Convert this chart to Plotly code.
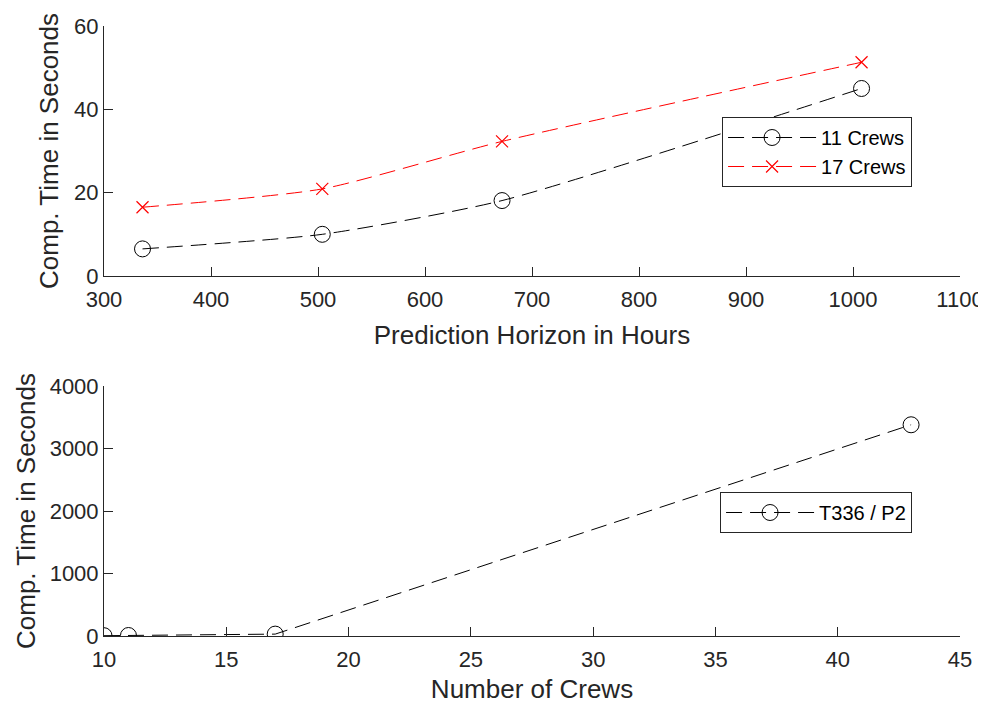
import plotly.graph_objects as go
from plotly.subplots import make_subplots

horizon_hours = [336, 504, 672, 1008]
time_11_crews = [6.5, 10.0, 18.1, 45.0]
time_17_crews = [16.5, 20.9, 32.3, 51.3]

num_crews = [10, 11, 17, 43]
time_t336_p2 = [5, 8, 30, 3380]

fig = make_subplots(rows=2, cols=1, vertical_spacing=0.18)

dash = "16px,8px"
fig.add_trace(go.Scatter(x=horizon_hours, y=time_11_crews, name="11 Crews", mode="lines+markers",
                         line=dict(color="black", width=1, dash=dash, shape="spline", smoothing=0.6),
                         marker=dict(symbol="circle-open", size=16, color="black", line=dict(width=1)),
                         legend="legend"), row=1, col=1)
fig.add_trace(go.Scatter(x=horizon_hours, y=time_17_crews, name="17 Crews", mode="lines+markers",
                         line=dict(color="red", width=1, dash=dash, shape="spline", smoothing=0.6),
                         marker=dict(symbol="x-thin-open", size=12, color="red", line=dict(width=1.2, color="red")),
                         legend="legend"), row=1, col=1)
fig.add_trace(go.Scatter(x=num_crews, y=time_t336_p2, name="T336 / P2", mode="lines+markers",
                         line=dict(color="black", width=1, dash=dash),
                         marker=dict(symbol="circle-open", size=16, color="black", line=dict(width=1)),
                         legend="legend2"), row=2, col=1)

axis_common = dict(showline=True, linecolor="#262626", linewidth=1, ticks="inside", ticklen=9,
                   tickcolor="#262626", showgrid=False, zeroline=False, mirror=False, automargin=False,
                   tickfont=dict(size=22, color="#262626"), title_font=dict(size=26, color="#262626"))

fig.update_layout(
    width=978, height=696, plot_bgcolor="white", paper_bgcolor="white",
    font=dict(family="Liberation Sans, Arial, sans-serif", color="#262626"),
    margin=dict(l=96, r=26, t=18, b=68, autoexpand=False),
    xaxis=dict(domain=[0, 1], range=[300, 1100], tickvals=[300, 400, 500, 600, 700, 800, 900, 1000, 1100],
               ticklabelstandoff=4,
               title_text="Prediction Horizon in Hours", title_standoff=14, **axis_common),
    yaxis=dict(domain=[0.5902, 1], range=[0, 60], tickvals=[0, 20, 40, 60],
               title_text="Comp. Time in Seconds", title_standoff=8, **axis_common),
    xaxis2=dict(domain=[0, 1], range=[10, 45], tickvals=[10, 15, 20, 25, 30, 35, 40, 45],
                ticklabelstandoff=4,
                title_text="Number of Crews", title_standoff=12, **axis_common),
    yaxis2=dict(domain=[0, 0.4098], range=[0, 4000], tickvals=[0, 1000, 2000, 3000, 4000],
                title_text="Comp. Time in Seconds", title_standoff=6, **axis_common),
    legend=dict(x=0.944, xanchor="right", y=(636 - 117) / 610, yanchor="top",
                bordercolor="#262626", borderwidth=1, bgcolor="white", itemwidth=88,
                font=dict(size=20, color="black"), tracegroupgap=0),
    legend2=dict(x=0.944, xanchor="right", y=(636 - 492) / 610, yanchor="top",
                 bordercolor="#262626", borderwidth=1, bgcolor="white", itemwidth=88,
                 font=dict(size=20, color="black")),
    showlegend=True,
)

fig.write_html("out.html")
